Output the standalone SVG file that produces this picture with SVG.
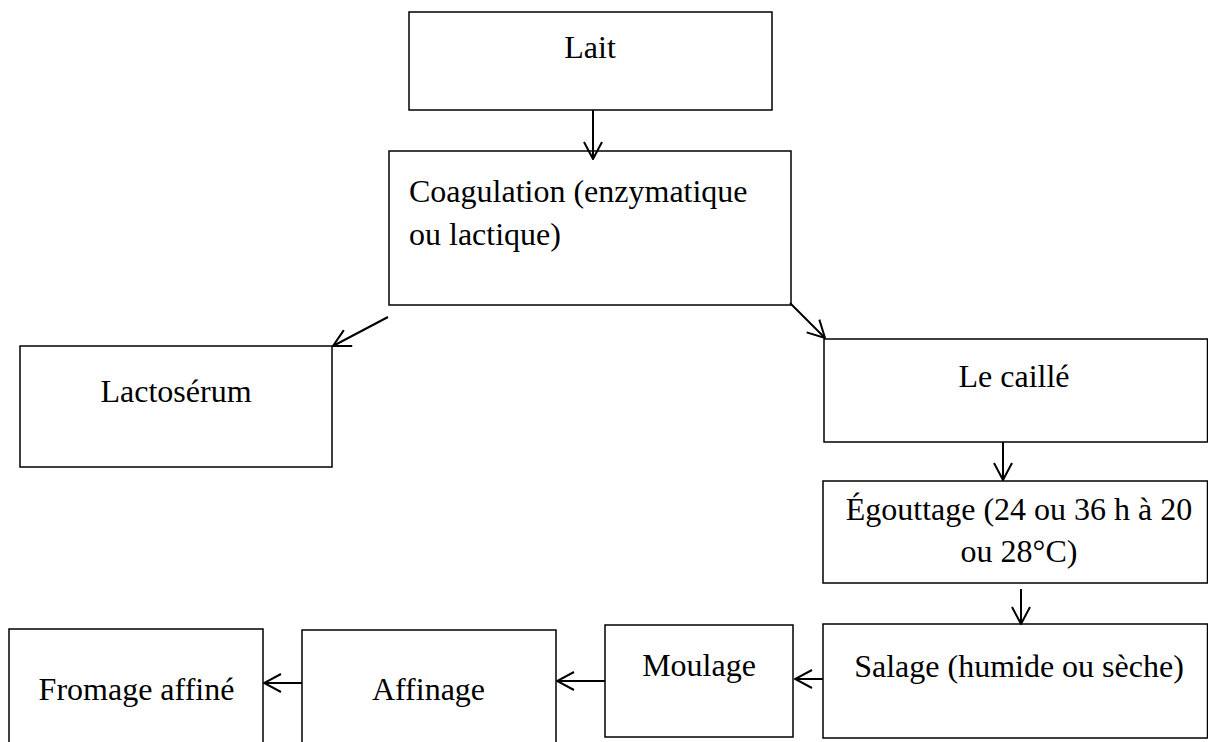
<svg xmlns="http://www.w3.org/2000/svg" width="1208" height="742" viewBox="0 0 1208 742">
<defs>
<style>
.box{fill:#fff;stroke:#000;stroke-width:1.5}
.lbl{font-family:"Liberation Serif","Times New Roman",serif;font-size:32px;fill:#000}
.c{text-anchor:middle}
.conn{stroke:#000;stroke-width:2;fill:none;marker-end:url(#arr)}
</style>
<marker id="arr" viewBox="0 0 20 20" refX="19" refY="10" markerWidth="20" markerHeight="20" markerUnits="userSpaceOnUse" orient="auto">
<path d="M2,1 L19,10 L2,19" fill="none" stroke="#000" stroke-width="2"/>
</marker>
</defs>
<rect width="1208" height="742" fill="#fff"/>
<g id="n-lait"><rect class="box" x="409" y="12" width="363" height="98"/><text class="lbl c" x="590" y="58">Lait</text></g>
<g id="n-coag"><rect class="box" x="389" y="151" width="402" height="154"/><text class="lbl" x="409" y="202">Coagulation (enzymatique</text><text class="lbl" x="409" y="245">ou lactique)</text></g>
<g id="n-lacto"><rect class="box" x="20" y="346" width="312" height="121"/><text class="lbl c" x="176" y="402">Lactosérum</text></g>
<g id="n-caille"><rect class="box" x="824" y="339" width="383.5" height="103"/><text class="lbl c" x="1014" y="387">Le caillé</text></g>
<g id="n-egout"><rect class="box" x="823" y="481" width="384.5" height="102"/><text class="lbl c" x="1019" y="520">Égouttage (24 ou 36 h à 20</text><text class="lbl c" x="1019" y="562">ou 28°C)</text></g>
<g id="n-salage"><rect class="box" x="823" y="624" width="384.5" height="114"/><text class="lbl c" x="1019" y="677">Salage (humide ou sèche)</text></g>
<g id="n-moulage"><rect class="box" x="605" y="625" width="188" height="112"/><text class="lbl c" x="699" y="676">Moulage</text></g>
<g id="n-affinage"><rect class="box" x="302" y="630" width="254" height="120"/><text class="lbl c" x="428.5" y="700">Affinage</text></g>
<g id="n-fromage"><rect class="box" x="9" y="629" width="254" height="120"/><text class="lbl c" x="136.5" y="700">Fromage affiné</text></g>
<g id="connectors">
<line class="conn" x1="593" y1="110" x2="593" y2="159"/>
<line class="conn" x1="388" y1="317" x2="333" y2="346"/>
<line class="conn" x1="790" y1="303" x2="825" y2="338"/>
<line class="conn" x1="1003" y1="442" x2="1003" y2="480"/>
<line class="conn" x1="1021" y1="589" x2="1021" y2="624"/>
<line class="conn" x1="823" y1="679" x2="795" y2="679"/>
<line class="conn" x1="605" y1="681" x2="557" y2="681"/>
<line class="conn" x1="302" y1="683" x2="264" y2="683"/>
</g>
</svg>
